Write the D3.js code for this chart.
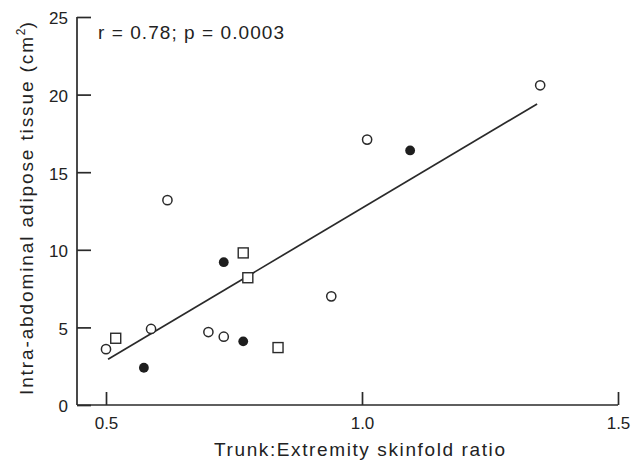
<!DOCTYPE html>
<html>
<head>
<meta charset="utf-8">
<script src="https://cdn.jsdelivr.net/npm/d3@7"></script>
<style>
  body { margin: 0; background: #fff; }
  text { font-family: "Liberation Sans", Arial, sans-serif; fill: #222; }
</style>
</head>
<body>
<svg></svg>
<script>
const width = 634;
const height = 460;

// data
const openCircles = [
  [0.50, 3.6], [0.588, 4.9], [0.62, 13.2], [0.70, 4.7],
  [0.73, 4.4], [0.94, 7.0], [1.01, 17.1], [1.348, 20.6]
];
const filledCircles = [
  [0.574, 2.4], [0.73, 9.2], [0.768, 4.1], [1.094, 16.4]
];
const squares = [
  [0.519, 4.3], [0.768, 9.8], [0.777, 8.2], [0.836, 3.7]
];
const fitLine = [[0.504, 2.95], [1.342, 19.4]];
const xTicks = [0.5, 1.0, 1.5];
const yTicks = [0, 5, 10, 15, 20, 25];

const svg = d3.select("svg").attr("width", width).attr("height", height);

const x = d3.scaleLinear().domain([0.5, 1.5]).range([106, 618]);
const y = d3.scaleLinear().domain([0, 25]).range([405, 17]);

const ink = "#2a2a2a";

// axes (ticks point inward)
const xAxis = svg.append("g").attr("transform", "translate(0,405)")
  .call(d3.axisTop(x).tickValues(xTicks).tickSize(13).tickSizeOuter(0).tickFormat(d3.format(".1f")));
xAxis.select(".domain").remove();
xAxis.append("line").attr("x1", 77).attr("x2", 618).attr("stroke", ink).attr("stroke-width", 1.7);
xAxis.selectAll(".tick line").attr("stroke", ink).attr("stroke-width", 1.7);
xAxis.selectAll(".tick text").attr("y", 12).attr("dy", "0.71em")
  .attr("font-size", 17).attr("font-family", "Liberation Sans, Arial, sans-serif").attr("fill", "#222");

const yAxis = svg.append("g").attr("transform", "translate(77,0)")
  .call(d3.axisLeft(y).tickValues(yTicks).tickSize(-14).tickSizeOuter(0));
yAxis.select(".domain").remove();
yAxis.append("line").attr("y1", 17).attr("y2", 405).attr("stroke", ink).attr("stroke-width", 1.7);
yAxis.selectAll(".tick line").attr("stroke", ink).attr("stroke-width", 1.7);
yAxis.selectAll(".tick text").attr("x", -9).attr("dy", "0.4em")
  .attr("font-size", 17).attr("font-family", "Liberation Sans, Arial, sans-serif").attr("fill", "#222");

// regression line
svg.append("path")
  .attr("d", d3.line().x(d => x(d[0])).y(d => y(d[1]))(fitLine))
  .attr("stroke", ink).attr("stroke-width", 1.7).attr("fill", "none");

// markers
svg.selectAll(".open").data(openCircles).enter().append("circle")
  .attr("cx", d => x(d[0])).attr("cy", d => y(d[1])).attr("r", 4.6)
  .attr("fill", "#fff").attr("stroke", ink).attr("stroke-width", 1.5);

svg.selectAll(".filled").data(filledCircles).enter().append("circle")
  .attr("cx", d => x(d[0])).attr("cy", d => y(d[1])).attr("r", 4.9)
  .attr("fill", "#1e1e1e");

svg.selectAll(".sq").data(squares).enter().append("rect")
  .attr("x", d => x(d[0]) - 5).attr("y", d => y(d[1]) - 5)
  .attr("width", 10).attr("height", 10)
  .attr("fill", "#fff").attr("stroke", ink).attr("stroke-width", 1.4);

// annotation and labels
svg.append("text").attr("x", 98).attr("y", 39).attr("font-size", 19)
  .attr("textLength", 186).attr("lengthAdjust", "spacing")
  .text("r = 0.78; p = 0.0003");

svg.append("text").attr("x", 214).attr("y", 456)
  .attr("font-size", 19).attr("textLength", 291).attr("lengthAdjust", "spacing")
  .text("Trunk:Extremity skinfold ratio");

const yl = svg.append("text")
  .attr("transform", "translate(33,395) rotate(-90)")
  .attr("font-size", 19);
yl.append("tspan").attr("textLength", 358).attr("lengthAdjust", "spacing")
  .text("Intra-abdominal adipose tissue (cm");
yl.append("tspan").attr("dy", -8).attr("font-size", 12).text("2");
yl.append("tspan").attr("dy", 8).text(")");
</script>
</body>
</html>
